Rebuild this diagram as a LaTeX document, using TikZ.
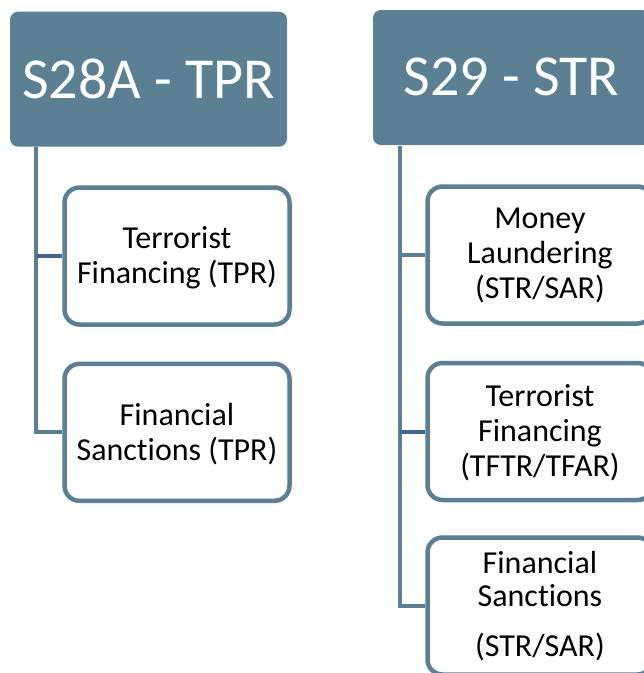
\documentclass[tikz,border=0pt]{standalone}
\usepackage{fontspec}
\setmainfont[Ligatures=NoCommon]{Carlito}
\definecolor{hdrblue}{HTML}{5B7F93}
\definecolor{linkblue}{HTML}{3F6895}
\begin{document}
\begin{tikzpicture}[x=1pt,y=-1pt,
  hdr/.style={fill=hdrblue, rounded corners=8pt, minimum width=277pt, minimum height=135pt,
    text=white, font=\fontsize{58}{60}\selectfont, inner sep=0pt},
  child/.style={draw=hdrblue, line width=4.5pt, fill=white, rounded corners=15pt,
    minimum width=225pt, minimum height=137pt, align=center, inner sep=0pt, text=black,
    font=\fontsize{32}{35}\selectfont},
  spine/.style={draw=hdrblue, line width=4pt},
  link/.style={draw=linkblue, line width=4pt}]
\useasboundingbox (0,0) rectangle (644,673);
\clip (0,0) rectangle (644,673);
\fill[white] (0,0) rectangle (644,673);
% left group
\node[hdr] (hA) at (148.5,79.2) {\raisebox{2pt}{S28A - TPR}};
\coordinate (sA) at (35.5,147);
\node[child] (a1) at (177,256) {\rule{0pt}{25pt}Terrorist\\Financing (TPR)};
\node[child] (a2) at (177,432.3) {\rule{0pt}{25pt}Financial\\Sanctions (TPR)};
% right group
\node[hdr] (hB) at (511.5,77.5) {\raisebox{2pt}{S29 - STR}};
\coordinate (sB) at (399.5,146);
\node[child] (b1) at (540,255) {Money\\Laundering\\(STR/SAR)};
\node[child] (b2) at (540,431.5) {\rule{0pt}{24pt}Terrorist\\Financing\\(TFTR/TFAR)};
\node[child, font=\fontsize{32}{33}\selectfont] (b3) at (540,606) {Financial\\Sanctions\\[17pt](STR/SAR)};
% connectors
\draw[spine] (sA) |- (a2.west);
\draw[link] (sA |- a1.west) -- (a1.west);
\draw[spine] (sB) |- (b3.west);
\draw[spine] (sB |- b1.west) -- (b1.west);
\draw[link] (sB |- b2.west) -- (b2.west);
\end{tikzpicture}
\end{document}
